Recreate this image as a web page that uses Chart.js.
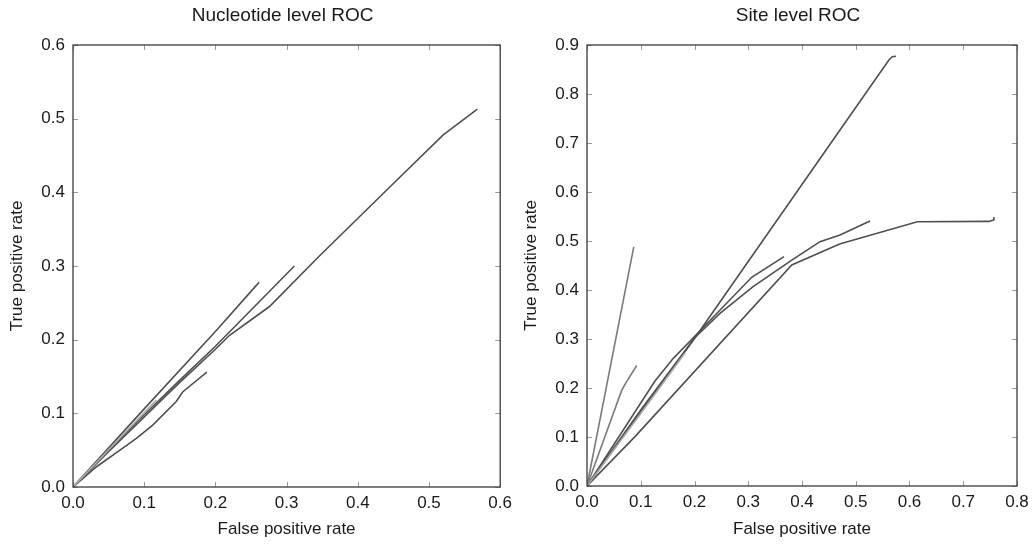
<!DOCTYPE html>
<html>
<head>
<meta charset="utf-8">
<title>ROC</title>
<script src="https://cdn.jsdelivr.net/npm/chart.js@4.4.1/dist/chart.umd.min.js"></script>
<style>
    html, body { margin: 0; padding: 0; background: #fff; }
    #wrap { position: relative; width: 1036px; height: 544px; }
    .panel { position: absolute; top: 0; width: 518px; height: 544px; }
    #panel-left { left: 0; }
    #panel-right { left: 518px; }
</style>
</head>
<body>
<div id="wrap">
    <div class="panel" id="panel-left"><canvas id="nucChart"></canvas></div>
    <div class="panel" id="panel-right"><canvas id="siteChart"></canvas></div>
</div>
<script>
// Nucleotide level ROC (false positive rate / true positive rate)
const nucA_fpr = [0, 0.1, 0.2, 0.255, 0.2615];
const nucA_tpr = [0, 0.106, 0.211, 0.271, 0.278];
const nucB_fpr = [0, 0.05, 0.1, 0.15, 0.2, 0.311];
const nucB_tpr = [0, 0.05, 0.098, 0.145, 0.191, 0.300];
const nucC_fpr = [0, 0.05, 0.1, 0.15, 0.2, 0.22, 0.276, 0.345, 0.45, 0.52, 0.568];
const nucC_tpr = [0, 0.048, 0.095, 0.142, 0.187, 0.206, 0.245, 0.3125, 0.412, 0.478, 0.513];
const nucD_fpr = [0, 0.033, 0.066, 0.089, 0.112, 0.145, 0.154, 0.188];
const nucD_tpr = [0, 0.0275, 0.05, 0.066, 0.084, 0.116, 0.129, 0.156];
const nucE_fpr = [0, 0.117];
const nucE_tpr = [0, 0.118];

// Site level ROC
const siteA_fpr = [0, 0.087];
const siteA_tpr = [0, 0.488];
const siteB_fpr = [0, 0.0645, 0.072, 0.0924];
const siteB_tpr = [0, 0.195, 0.21, 0.246];
const siteC_fpr = [0, 0.2, 0.4707, 0.562, 0.568, 0.575];
const siteC_tpr = [0, 0.301, 0.7265, 0.870, 0.876, 0.877];
const siteD_fpr = [0, 0.0893, 0.381, 0.47, 0.6145, 0.748, 0.756, 0.757];
const siteD_tpr = [0, 0.1007, 0.451, 0.494, 0.5394, 0.540, 0.543, 0.549];
const siteE_fpr = [0, 0.1, 0.2, 0.2474, 0.309, 0.381, 0.4335, 0.4707, 0.5265];
const siteE_tpr = [0, 0.155, 0.302, 0.3524, 0.407, 0.461, 0.4986, 0.5122, 0.5408];
const siteF_fpr = [0, 0.1265, 0.1606, 0.2, 0.3064, 0.3665];
const siteF_tpr = [0, 0.2143, 0.2605, 0.305, 0.426, 0.468];
const siteG_fpr = [0, 0.1, 0.182];
const siteG_tpr = [0, 0.148, 0.271];

const nucTicksX = [0, 0.1, 0.2, 0.3, 0.4, 0.5, 0.6];
const nucTicksY = [0, 0.1, 0.2, 0.3, 0.4, 0.5, 0.6];
const siteTicksX = [0, 0.1, 0.2, 0.3, 0.4, 0.5, 0.6, 0.7, 0.8];
const siteTicksY = [0, 0.1, 0.2, 0.3, 0.4, 0.5, 0.6, 0.7, 0.8, 0.9];

const DARK = '#4f4f4f';
const MID = '#7a7a7a';
const LIGHT = '#ababab';
const FONT = "'Liberation Sans', Arial, sans-serif";

Chart.defaults.font.family = FONT;
Chart.defaults.color = '#1a1a1a';

// 枠と内向きの目盛り線、タイトルを描く
const frameTicks = {
    id: 'frameTicks',
    afterDatasetsDraw(chart, args, opts) {
        const { ctx, chartArea: a, scales } = chart;
        const len = 5;
        ctx.save();
        ctx.strokeStyle = '#9a9a9a';
        ctx.lineWidth = 1;
        ctx.beginPath();
        scales.x.ticks.forEach(t => {
            const px = Math.round(scales.x.getPixelForValue(t.value)) + 0.5;
            ctx.moveTo(px, a.bottom); ctx.lineTo(px, a.bottom - len);
            ctx.moveTo(px, a.top); ctx.lineTo(px, a.top + len);
        });
        scales.y.ticks.forEach(t => {
            const py = Math.round(scales.y.getPixelForValue(t.value)) + 0.5;
            ctx.moveTo(a.left, py); ctx.lineTo(a.left + len, py);
            ctx.moveTo(a.right, py); ctx.lineTo(a.right - len, py);
        });
        ctx.stroke();
        ctx.strokeStyle = '#3a3a3a';
        ctx.lineWidth = 1.3;
        ctx.strokeRect(a.left, a.top, a.right - a.left, a.bottom - a.top);
        ctx.restore();
    },
    afterDraw(chart, args, opts) {
        const { ctx, chartArea: a } = chart;
        ctx.save();
        ctx.fillStyle = '#1a1a1a';
        ctx.font = '19px ' + FONT;
        ctx.textAlign = 'center';
        ctx.textBaseline = 'middle';
        ctx.fillText(opts.title, (a.left + a.right) / 2 - 4, 16);
        ctx.restore();
    }
};

function series(fpr, tpr, color) {
    return {
        data: fpr.map((x, i) => ({ x: x, y: tpr[i] })),
        borderColor: color,
        borderWidth: 1.6,
        pointRadius: 0,
        showLine: true,
        tension: 0,
        fill: false
    };
}

function makeChart(id, title, datasets, xTicks, yTicks, dims) {
    const ctx = document.getElementById(id).getContext('2d');
    return new Chart(ctx, {
        type: 'scatter',
        data: { datasets: datasets },
        plugins: [frameTicks],
        options: {
            responsive: true,
            maintainAspectRatio: false,
            animation: false,
            layout: { padding: { top: 45, right: dims.right, bottom: 0, left: 0 } },
            plugins: {
                legend: { display: false },
                tooltip: { enabled: false },
                frameTicks: { title: title }
            },
            scales: {
                x: {
                    type: 'linear',
                    min: xTicks[0],
                    max: xTicks[xTicks.length - 1],
                    afterBuildTicks: s => { s.ticks = xTicks.map(v => ({ value: v })); },
                    afterFit: s => { s.height = dims.xh; },
                    grid: { display: false, drawTicks: false },
                    border: { display: false },
                    ticks: {
                        padding: 6,
                        maxRotation: 0,
                        font: { size: 17 },
                        callback: v => v.toFixed(1)
                    },
                    title: {
                        display: true,
                        text: 'False positive rate',
                        font: { size: 17 },
                        padding: { top: 0, bottom: 4 }
                    }
                },
                y: {
                    type: 'linear',
                    min: yTicks[0],
                    max: yTicks[yTicks.length - 1],
                    afterBuildTicks: s => { s.ticks = yTicks.map(v => ({ value: v })); },
                    afterFit: s => { s.width = dims.yw; },
                    grid: { display: false, drawTicks: false },
                    border: { display: false },
                    ticks: {
                        padding: 8,
                        font: { size: 17 },
                        callback: v => v.toFixed(1)
                    },
                    title: {
                        display: true,
                        text: 'True positive rate',
                        font: { size: 17 },
                        padding: { top: dims.tp, bottom: 0 }
                    }
                }
            }
        }
    });
}

document.addEventListener('DOMContentLoaded', () => {
    makeChart('nucChart', 'Nucleotide level ROC', [
        series(nucE_fpr, nucE_tpr, LIGHT),
        series(nucD_fpr, nucD_tpr, DARK),
        series(nucC_fpr, nucC_tpr, DARK),
        series(nucB_fpr, nucB_tpr, DARK),
        series(nucA_fpr, nucA_tpr, DARK)
    ], nucTicksX, nucTicksY, { right: 16, xh: 57, yw: 73, tp: 7 });

    makeChart('siteChart', 'Site level ROC', [
        series(siteA_fpr, siteA_tpr, MID),
        series(siteB_fpr, siteB_tpr, MID),
        series(siteG_fpr, siteG_tpr, LIGHT),
        series(siteD_fpr, siteD_tpr, DARK),
        series(siteE_fpr, siteE_tpr, DARK),
        series(siteF_fpr, siteF_tpr, DARK),
        series(siteC_fpr, siteC_tpr, DARK)
    ], siteTicksX, siteTicksY, { right: 19, xh: 58, yw: 69, tp: 3 });
});
</script>
</body>
</html>
